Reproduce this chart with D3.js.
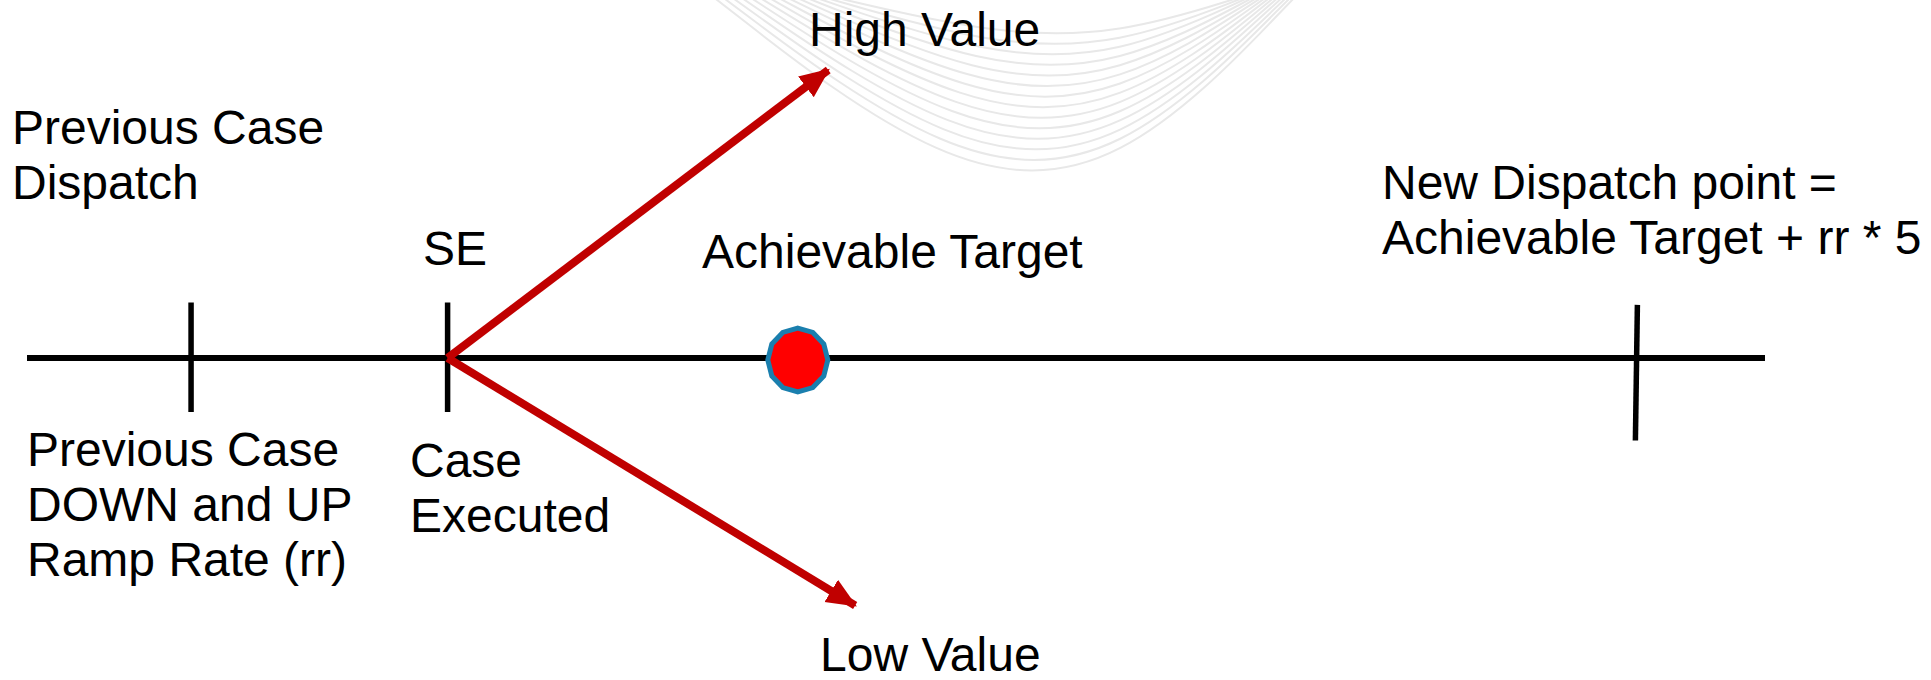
<!DOCTYPE html>
<html lang="en">
<head>
  <meta charset="UTF-8" />
  <title>Dispatch Ramp Diagram</title>
  <script src="https://cdn.jsdelivr.net/npm/d3@7"></script>
  <style>
    html, body {
      margin: 0;
      padding: 0;
      background: #fff;
      overflow: hidden;
    }
    svg {
      display: block;
    }
    text {
      font-family: "Liberation Sans", Arial, sans-serif;
      font-size: 48px;
      fill: #000;
    }
  </style>
</head>
<body>
  <script>
    // axis markers (position along the dispatch line, 0..100)
    const tickNames = ["Previous Case", "SE", "New Dispatch"];
    const tickValues = [9.44, 24.2, 92.6];

    const targetName = "Achievable Target";
    const targetValue = 44.35;

    // ramp arrows from SE: [x, y] in axis units
    const rampNames = ["High Value", "Low Value"];
    const rampEnds = [[46.1, 9.6], [47.65, -8.25]];

    // text blocks
    const labelLines = [
      ["Previous Case", "Dispatch"],
      ["SE"],
      ["Achievable Target"],
      ["High Value"],
      ["New Dispatch point =", "Achievable Target + rr * 5"],
      ["Previous Case", "DOWN and UP", "Ramp Rate (rr)"],
      ["Case", "Executed"],
      ["Low Value"]
    ];

    const width = 1931;
    const height = 680;

    const svg = d3.select("body")
      .append("svg")
      .attr("width", width)
      .attr("height", height);

    const x = d3.scaleLinear().domain([0, 100]).range([27, 1765]);
    const y = d3.scaleLinear().domain([-10, 10]).range([658, 58]);

    // ---- faint background swoosh ----
    const swoosh = svg.append("g").attr("fill", "none")
      .attr("stroke", "#e8e8e8").attr("stroke-width", 2);
    const curve = d3.line().curve(d3.curveBasis);
    d3.range(14).forEach(i => {
      const xl = 712 + i * 9;
      const xr = 1296 - i * 4;
      const yb = 178 - i * 11;
      swoosh.append("path")
        .attr("d", curve([
          [xl, -4],
          [xl + (xr - xl) * 0.4, yb],
          [xr - (xr - xl) * 0.3, yb],
          [xr, -4]
        ]));
    });

    // ---- main line ----
    svg.append("line")
      .attr("x1", x(0)).attr("x2", x(100))
      .attr("y1", y(0)).attr("y2", y(0))
      .attr("stroke", "#000").attr("stroke-width", 6);

    // ---- ticks ----
    const tickExtent = [[1.85, -1.8], [1.85, -1.8], [1.77, -2.75]];
    svg.selectAll("line.tick")
      .data(tickValues)
      .join("line")
      .attr("class", "tick")
      .attr("x1", (d, i) => x(d) + (i === 2 ? 1 : 0))
      .attr("x2", (d, i) => x(d) - (i === 2 ? 1 : 0))
      .attr("y1", (d, i) => y(tickExtent[i][0]))
      .attr("y2", (d, i) => y(tickExtent[i][1]))
      .attr("stroke", "#000").attr("stroke-width", 5.5);

    // ---- ramp arrows ----
    const defs = svg.append("defs");
    defs.append("marker")
      .attr("id", "arrow")
      .attr("viewBox", "0 0 30 28")
      .attr("markerUnits", "userSpaceOnUse")
      .attr("markerWidth", 30)
      .attr("markerHeight", 28)
      .attr("refX", 28)
      .attr("refY", 14)
      .attr("orient", "auto")
      .append("path")
      .attr("d", "M0,1 L30,14 L0,27 Z")
      .attr("fill", "#c00000");

    const se = tickValues[1];
    svg.selectAll("line.ramp")
      .data(rampEnds)
      .join("line")
      .attr("class", "ramp")
      .attr("x1", x(se)).attr("y1", y(0))
      .attr("x2", d => x(d[0])).attr("y2", d => y(d[1]))
      .attr("stroke", "#c00000").attr("stroke-width", 8)
      .attr("marker-end", "url(#arrow)");

    // ---- achievable target dot ----
    const r = 30;
    const poly = d3.range(12).map(k => {
      const a = -Math.PI / 2 + k * Math.PI * 2 / 12;
      return [x(targetValue) + r * Math.cos(a), y(0) + 2 + r * 1.06 * Math.sin(a)];
    });
    svg.append("path")
      .attr("d", d3.line().curve(d3.curveLinearClosed)(poly))
      .attr("fill", "#ff0000")
      .attr("stroke", "#1a7fae")
      .attr("stroke-width", 5);

    // ---- labels ----
    const labelPos = [
      [12, 144], [423, 265], [702, 268], [809, 46],
      [1382, 199], [27, 466], [410, 477], [820, 671]
    ];
    const lineGap = 55;
    labelLines.forEach((lines, i) => {
      const t = svg.append("text")
        .attr("x", labelPos[i][0])
        .attr("y", labelPos[i][1]);
      lines.forEach((s, j) => {
        t.append("tspan")
          .attr("x", labelPos[i][0])
          .attr("dy", j === 0 ? 0 : lineGap)
          .text(s);
      });
    });
  </script>
</body>
</html>
